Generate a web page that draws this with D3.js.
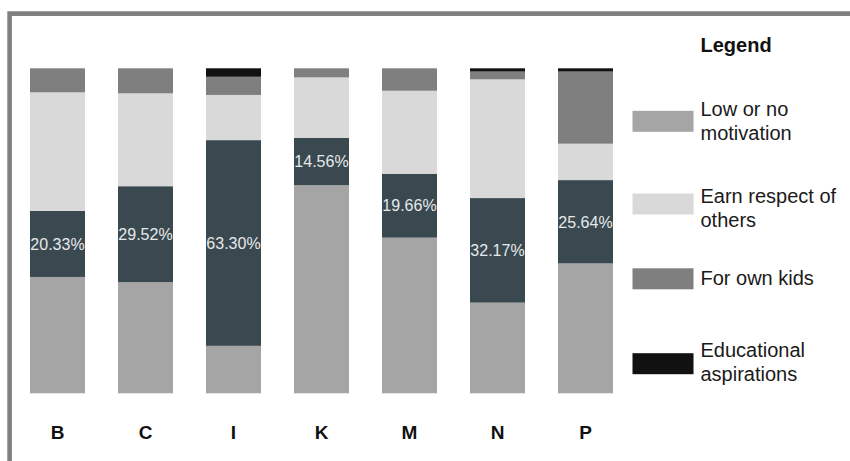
<!DOCTYPE html>
<html>
<head>
<meta charset="utf-8">
<script src="https://cdn.jsdelivr.net/npm/d3@7"></script>
<style>
  html, body { margin: 0; padding: 0; background: #fff; }
  svg { display: block; font-family: "Liberation Sans", Arial, sans-serif; }
</style>
</head>
<body>
<svg id="chart" width="850" height="461"></svg>
<script>
// ---- data (percent of each bar) ----
const categories = ["B", "C", "I", "K", "M", "N", "P"];
const lowMotivation  = [35.8, 34.2, 14.6, 64.04, 47.9, 27.9, 39.96];
const labelledShare  = [20.33, 29.52, 63.30, 14.56, 19.66, 32.17, 25.64];
const earnRespect    = [36.47, 28.58, 13.9, 18.6, 25.54, 36.53, 11.2];
const ownKids        = [7.4, 7.7, 5.6, 2.8, 6.9, 2.4, 22.2];
const eduAspirations = [0, 0, 2.6, 0, 0, 1.0, 1.0];

const seriesKeys   = ["low", "share", "earn", "kids", "edu"];
const seriesValues = [lowMotivation, labelledShare, earnRespect, ownKids, eduAspirations];
const legendKeys   = ["low", "earn", "kids", "edu"];
const legendLabels = ["Low or no motivation", "Earn respect of others", "For own kids", "Educational aspirations"];
const legendTitle  = "Legend";

const colors = { low: "#a5a5a5", share: "#3a4850", earn: "#d9d9d9", kids: "#7f7f7f", edu: "#111111" };

// ---- build table ----
const table = categories.map((c, i) => {
  const row = { cat: c };
  seriesKeys.forEach((k, j) => row[k] = seriesValues[j][i]);
  return row;
});
const stacked = d3.stack().keys(seriesKeys)(table);

const svg = d3.select("#chart");

// frame lines (top and left)
svg.append("path")
  .attr("d", "M9.6,461V13.6H850")
  .attr("fill", "none")
  .attr("stroke", "#808080")
  .attr("stroke-width", 4.6);

const x = d3.scaleBand().domain(categories).range([13.5, 629.5])
  .paddingInner(0.375).paddingOuter(0.1875);
const y = d3.scaleLinear().domain([0, 100]).range([393.3, 68.3]);

const g = svg.append("g");
g.selectAll("g.series").data(stacked).join("g")
  .attr("class", "series")
  .attr("fill", d => colors[d.key])
  .selectAll("rect").data(d => d).join("rect")
  .attr("x", d => x(d.data.cat))
  .attr("width", x.bandwidth())
  .attr("y", d => y(d[1]))
  .attr("height", d => Math.max(0, y(d[0]) - y(d[1])));

// percent labels on the dark segment
const shareLayer = stacked.find(s => s.key === "share");
g.selectAll("text.pct").data(shareLayer).join("text")
  .attr("class", "pct")
  .attr("x", d => x(d.data.cat) + x.bandwidth() / 2)
  .attr("y", d => (y(d[0]) + y(d[1])) / 2)
  .attr("dy", "0.36em")
  .attr("text-anchor", "middle")
  .attr("font-size", 16)
  .attr("fill", "#e6e9ea")
  .text(d => d3.format(".2f")(d.data.share) + "%");

// category axis labels
const xAxis = d3.axisBottom(x).tickSize(0).tickPadding(0);
const ax = svg.append("g").attr("transform", "translate(0,425)").call(xAxis);
ax.select(".domain").remove();
ax.selectAll("text")
  .attr("font-family", "Liberation Sans, Arial, sans-serif")
  .attr("font-size", 19)
  .attr("font-weight", "bold")
  .attr("fill", "#111")
  .attr("dy", "0.71em");

// legend
const legend = svg.append("g");
legend.append("text")
  .attr("x", 700.5).attr("y", 51.5)
  .attr("font-size", 20).attr("font-weight", "bold").attr("fill", "#111")
  .text(legendTitle);

const rowBaselines = [115.5, 202.7, 285, 356.7];
const swatchCenters = [121.3, 204, 278.8, 363.7];
const lineGap = 24.5;

legendKeys.forEach((k, i) => {
  legend.append("rect")
    .attr("x", 632.5).attr("y", swatchCenters[i] - 10.5)
    .attr("width", 61).attr("height", 21)
    .attr("fill", colors[k]);
  const t = legend.append("text")
    .attr("x", 700.5).attr("y", rowBaselines[i])
    .attr("font-size", 20).attr("fill", "#1a1a1a");
  // simple word wrap to max width
  const words = legendLabels[i].split(" ");
  let line = [];
  let tspan = t.append("tspan").attr("x", 700.5).attr("dy", 0);
  words.forEach(w => {
    line.push(w);
    tspan.text(line.join(" "));
    if (tspan.node().getComputedTextLength() > 142 && line.length > 1) {
      line.pop();
      tspan.text(line.join(" "));
      line = [w];
      tspan = t.append("tspan").attr("x", 700.5).attr("dy", lineGap).text(w);
    }
  });
});
</script>
</body>
</html>
